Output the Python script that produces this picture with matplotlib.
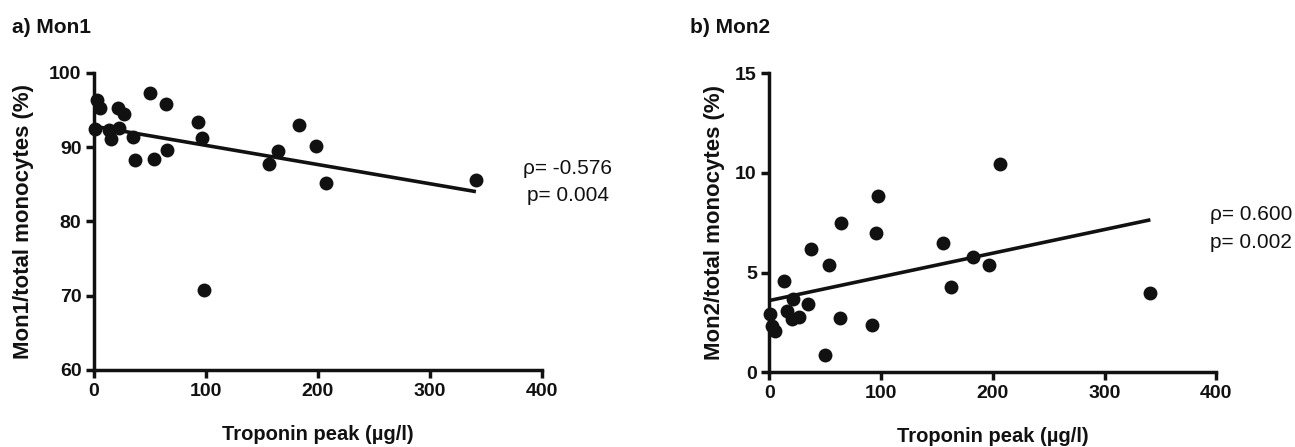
import numpy as np
import matplotlib
matplotlib.use('Agg')
import matplotlib.pyplot as plt

plt.rcParams['font.family'] = ['Liberation Sans', 'DejaVu Sans']

# a) Mon1 vs troponin peak
mon1_trop = [3, 5, 50, 64, 21, 27, 1, 13.5, 22, 15.5, 35, 37, 54, 65,
             93, 96, 164, 156, 183, 198, 207, 341, 98]
mon1_pct = [96.3, 95.2, 97.3, 95.8, 95.2, 94.5, 92.4, 92.3, 92.6, 91.1, 91.4, 88.3, 88.4, 89.6,
            93.4, 91.2, 89.4, 87.7, 92.9, 90.1, 85.2, 85.5, 70.8]
mon1_fit_x = [0, 341]
mon1_fit_y = [92.8, 84.0]

# b) Mon2 vs troponin peak
mon2_trop = [206, 97.5, 64, 95.5, 37, 155, 182, 197, 53.5, 163, 13, 21.5, 35, 15.5,
             0.5, 20, 27, 63, 92, 2, 5, 50, 341]
mon2_pct = [10.46, 8.82, 7.48, 7.01, 6.19, 6.48, 5.78, 5.39, 5.39, 4.30, 4.59, 3.67, 3.42, 3.08,
            2.91, 2.68, 2.79, 2.74, 2.38, 2.3, 2.05, 0.87, 4.0]
mon2_fit_x = [0, 341]
mon2_fit_y = [3.6, 7.65]

xticks = [0, 100, 200, 300, 400]
ink = '#111111'

fig = plt.figure(figsize=(12.95, 4.47), dpi=100)
ax1 = fig.add_axes([94 / 1295, 1 - 370 / 447, 448 / 1295, 297.3 / 447])
ax2 = fig.add_axes([769.3 / 1295, 1 - 372.3 / 447, 447 / 1295, 299 / 447])


def style(ax, ylim, yticks, ylabel, pad):
    ax.set_xlim(0, 400)
    ax.set_ylim(*ylim)
    ax.set_xticks(xticks)
    ax.set_yticks(yticks)
    for s in ['top', 'right']:
        ax.spines[s].set_visible(False)
    for s in ['left', 'bottom']:
        ax.spines[s].set_linewidth(2.5)
        ax.spines[s].set_color(ink)
    ax.tick_params(direction='out', length=6, width=2.5, color=ink,
                   labelsize=14, labelcolor=ink, pad=3)
    for lab in ax.get_xticklabels() + ax.get_yticklabels():
        lab.set_fontweight('bold')
    ax.set_xlabel('Troponin peak (µg/l)', fontsize=14.5, fontweight='bold',
                  color=ink, labelpad=18)
    ax.set_ylabel(ylabel, fontsize=16, fontweight='bold', color=ink, labelpad=pad)


ax1.plot(mon1_fit_x, mon1_fit_y, color=ink, lw=2.6, solid_capstyle='butt', zorder=2)
ax1.plot(mon1_trop, mon1_pct, 'o', color=ink, markersize=9, clip_on=False, zorder=3)
style(ax1, (60, 100), [60, 70, 80, 90, 100], 'Mon1/total monocytes (%)', 11)
ax1.text(423, 86.4, 'ρ= -0.576', fontsize=15, ha='center', va='baseline', color=ink)
ax1.text(423, 82.7, 'p= 0.004', fontsize=15, ha='center', va='baseline', color=ink)

ax2.plot(mon2_fit_x, mon2_fit_y, color=ink, lw=2.6, solid_capstyle='butt', zorder=2)
ax2.plot(mon2_trop, mon2_pct, 'o', color=ink, markersize=9, clip_on=False, zorder=3)
style(ax2, (0, 15), [0, 5, 10, 15], 'Mon2/total monocytes (%)', 7)
ax2.text(431, 7.66, 'ρ= 0.600', fontsize=15, ha='center', va='baseline', color=ink, clip_on=False)
ax2.text(431, 6.23, 'p= 0.002', fontsize=15, ha='center', va='baseline', color=ink, clip_on=False)

fig.text(12 / 1295, 1 - 32.7 / 447, 'a) Mon1', fontsize=15, fontweight='bold', color=ink)
fig.text(690 / 1295, 1 - 32.7 / 447, 'b) Mon2', fontsize=15, fontweight='bold', color=ink)

fig.savefig('out.png', dpi=100, facecolor='white')
